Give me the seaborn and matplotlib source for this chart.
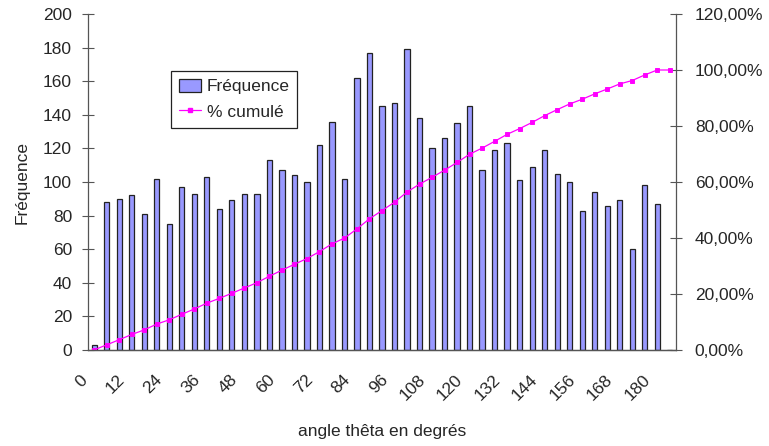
import matplotlib
matplotlib.use("Agg")
import matplotlib.pyplot as plt
from matplotlib.transforms import ScaledTranslation
from matplotlib.patches import Patch
from matplotlib.lines import Line2D
import seaborn as sns
import numpy as np
import pandas as pd

# ---- data ----
categories = [str(a) for a in range(0, 184, 4)] + ["Plus"]
frequence = [3, 88, 90, 92, 81, 102, 75, 97, 93, 103, 84, 89, 93, 93, 113,
             107, 104, 100, 122, 136, 102, 162, 177, 145, 147, 179, 138, 120,
             126, 135, 145, 107, 119, 123, 101, 109, 119, 105, 100, 83, 94,
             86, 89, 60, 98, 87, 0]
cumul_pct = [0.06, 1.85, 3.68, 5.55, 7.19, 9.27, 10.79, 12.76, 14.65, 16.74,
             18.45, 20.26, 22.15, 24.04, 26.34, 28.51, 30.62, 32.66, 35.13,
             37.90, 39.97, 43.26, 46.86, 49.81, 52.79, 56.43, 59.24, 61.67,
             64.23, 66.98, 69.92, 72.10, 74.52, 77.02, 79.07, 81.28, 83.70,
             85.84, 87.87, 89.55, 91.47, 93.21, 95.02, 96.24, 98.23, 100.0,
             100.0]
y_left_ticks = list(range(0, 201, 20))
y_right_ticks = list(range(0, 121, 20))

df = pd.DataFrame({"angle": categories, "freq": frequence, "cum": cumul_pct})

sns.set_theme(style="white")
plt.rcParams["font.family"] = ["Liberation Sans", "DejaVu Sans"]
FS = 12.5
spine_col = "#555555"

fig = plt.figure(figsize=(7.69, 4.46), dpi=100)
ax = fig.add_axes([88 / 769, 1 - 350 / 446, 588 / 769, 336 / 446])

sns.barplot(data=df, x="angle", y="freq", ax=ax, color="#9999FF",
            saturation=1, width=0.42, edgecolor="#222222", linewidth=0.9)

ax2 = ax.twinx()
sns.pointplot(data=df, x="angle", y="cum", ax=ax2, color="#FF00FF",
              markers="s", markersize=3.5, linewidth=0.9, errorbar=None)

n = len(categories)
ax.set_xlim(-0.5, n - 0.5)
ax.set_ylim(0, 200)
ax2.set_ylim(0, 120)

# x ticks: labels every 3 categories, tick marks at category boundaries
major = list(range(0, n, 3))
ax.set_xticks(major)
ax.set_xticklabels([categories[i] for i in major], rotation=45, ha="right",
                   va="top", fontsize=FS)
ax.set_xticks(np.arange(-0.5, n, 1), minor=True)
ax.tick_params(axis="x", which="major", length=0, pad=16)
ax.tick_params(axis="x", which="minor", direction="inout", length=9,
               width=0.8, color=spine_col)
ax2.tick_params(axis="x", which="both", length=0)

ax.set_yticks(y_left_ticks)
ax.set_yticklabels([str(v) for v in y_left_ticks], fontsize=FS)
ax.tick_params(axis="y", direction="inout", length=9, width=0.8,
               color=spine_col, pad=7, left=True)

ax2.set_yticks(y_right_ticks)
ax2.set_yticklabels([f"{v:.2f}%".replace(".", ",") for v in y_right_ticks],
                    fontsize=FS)
ax2.tick_params(axis="y", direction="inout", length=9, width=0.8,
                color=spine_col, pad=9, right=True)

off = ScaledTranslation(-4 / 100, 0, fig.dpi_scale_trans)
for lab in ax.get_xticklabels():
    lab.set_transform(lab.get_transform() + off)

for a in (ax, ax2):
    a.spines["top"].set_visible(False)
    for s in ("left", "right", "bottom"):
        a.spines[s].set_color(spine_col)
        a.spines[s].set_linewidth(0.9)
    a.grid(False)
ax2.spines["left"].set_visible(False)
ax.spines["right"].set_visible(False)

ax.set_xlabel("angle thêta en degrés", fontsize=FS, labelpad=15)
ax.set_ylabel("Fréquence", fontsize=FS, labelpad=10)
ax2.set_ylabel("")

handles = [Patch(facecolor="#9999FF", edgecolor="#222222", linewidth=0.9),
           Line2D([], [], color="#FF00FF", marker="s", markersize=3.5,
                  linewidth=0.9)]
leg = ax2.legend(handles, ["Fréquence", "% cumulé"], loc="upper left",
                 bbox_to_anchor=(83 / 588, (350 - 71) / 336),
                 borderaxespad=0, fontsize=FS, frameon=True, fancybox=False,
                 edgecolor="#222222", framealpha=1, handlelength=1.25,
                 handleheight=0.8, borderpad=0.45, labelspacing=0.55,
                 handletextpad=0.35)
leg.get_frame().set_linewidth(0.9)

fig.savefig("out.png", dpi=100)
